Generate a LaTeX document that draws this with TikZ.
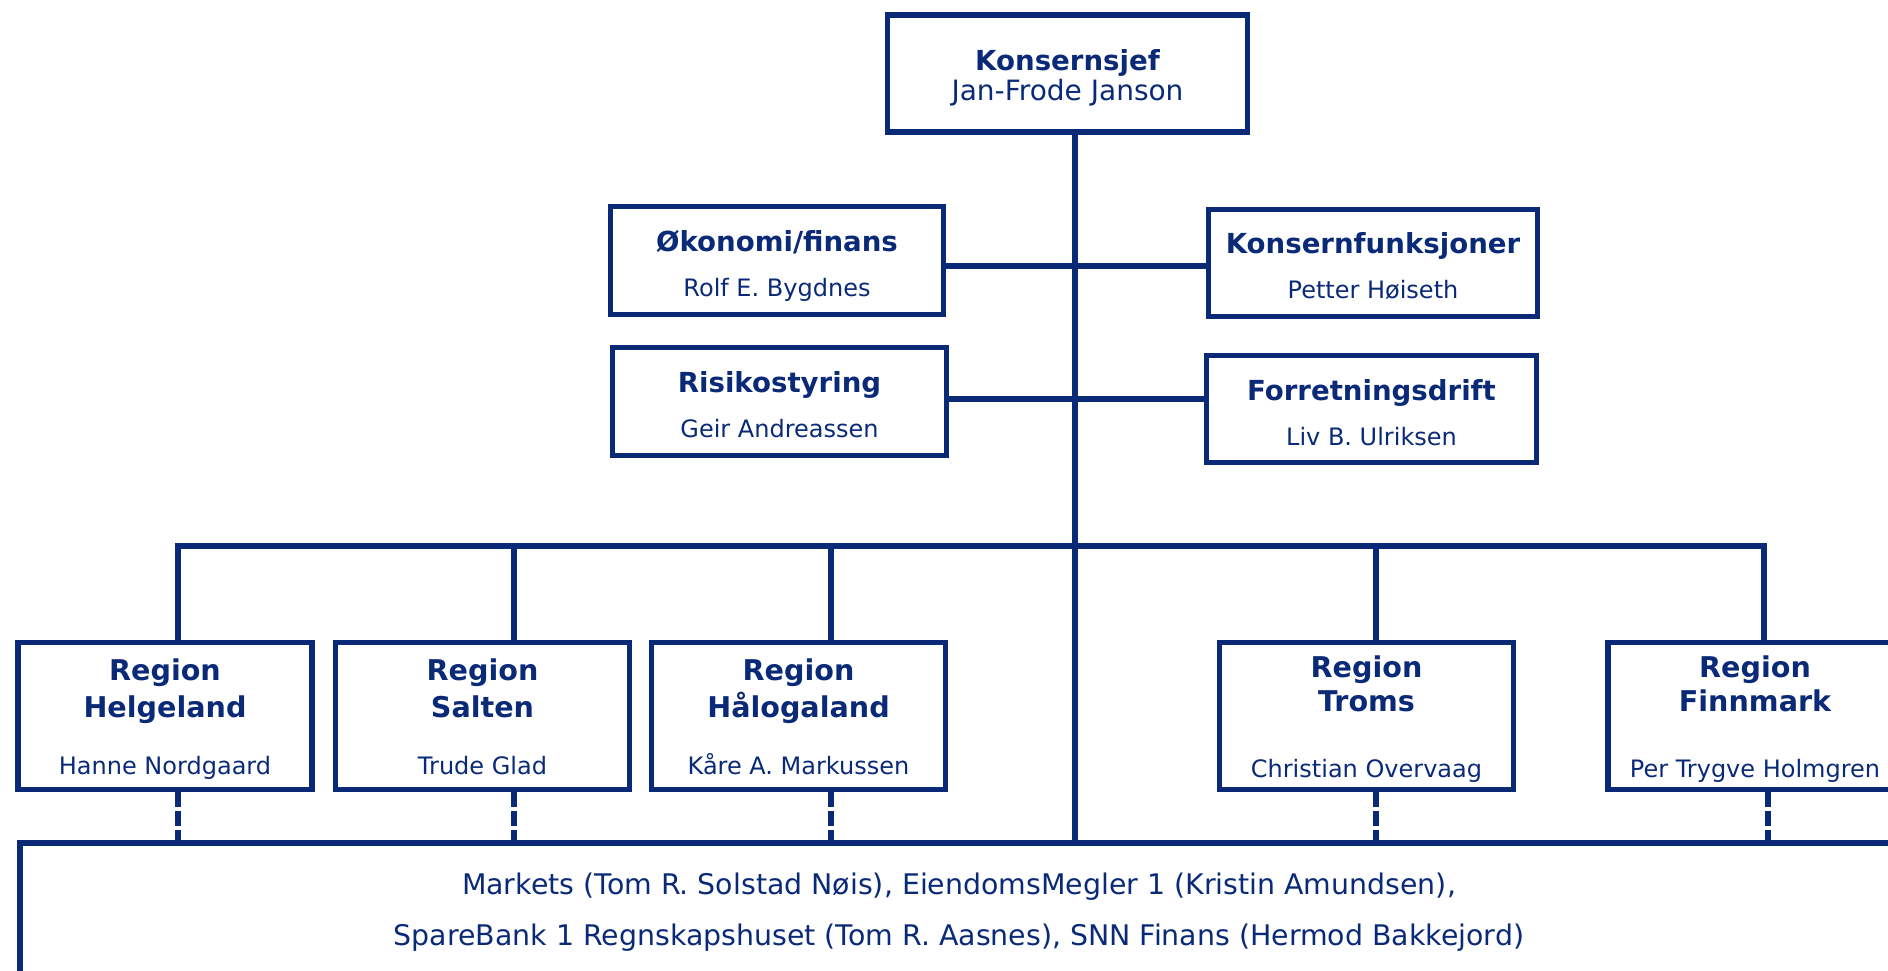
\documentclass[tikz,border=0pt]{standalone}
\usepackage{fontspec}
\setmainfont{DejaVu Sans}
\definecolor{navy}{HTML}{0A2A78}
\begin{document}
\begin{tikzpicture}[x=0.5pt,y=-0.5pt,
  box/.style={draw=navy,line width=2.8pt,rectangle,inner sep=0pt},
  conn/.style={draw=navy,line width=2.8pt},
  dconn/.style={draw=navy,line width=2.8pt,dash pattern=on 7.5pt off 2pt},
  lbl/.style={text=navy,anchor=base,inner sep=0pt},
  ttl/.style={lbl,font=\fontsize{13.8}{16}\selectfont\bfseries},
  ceonm/.style={lbl,font=\fontsize{14}{16}\selectfont},
  nm/.style={lbl,font=\fontsize{12}{14}\selectfont},
  rttl/.style={lbl,font=\fontsize{14.3}{17}\selectfont\bfseries},
  rnm/.style={lbl,font=\fontsize{12}{14}\selectfont},
  btxt/.style={lbl,font=\fontsize{14.2}{16}\selectfont},
  rbox/.style={box,minimum width=147pt,minimum height=73.5pt}
]
\clip (0,0) rectangle (1888,970);

% top
\node[box,minimum width=180pt,minimum height=58.5pt] (ceo) at (1067.5,73.5) {};
\node[ttl] (ceoT) at (1067.5,70) {Konsernsjef};
\node[ceonm] (ceoN) at (1067.5,100) {Jan-Frode Janson};

% staff
\node[box,minimum width=166.5pt,minimum height=54pt] (oko) at (777,260.5) {};
\node[ttl] (okoT) at (777,251) {Økonomi/finans};
\node[nm] (okoN) at (777,296) {Rolf E. Bygdnes};

\node[box,minimum width=164.5pt,minimum height=53.5pt] (kf) at (1373,263) {};
\node[ttl] (kfT) at (1373,253) {Konsernfunksjoner};
\node[nm] (kfN) at (1373,298) {Petter Høiseth};

\node[box,minimum width=167pt,minimum height=54pt] (risk) at (779.5,401.5) {};
\node[ttl] (riskT) at (779.5,392) {Risikostyring};
\node[nm] (riskN) at (779.5,437) {Geir Andreassen};

\node[box,minimum width=165pt,minimum height=53.5pt] (fd) at (1371.5,409) {};
\node[ttl] (fdT) at (1371.5,400) {Forretningsdrift};
\node[nm] (fdN) at (1371.5,445) {Liv B. Ulriksen};

% regions
\node[rbox] (helg) at (165,716) {};
\node[rttl] (helgT1) at (165,680) {Region};
\node[rttl] (helgT2) at (165,717) {Helgeland};
\node[rnm] (helgN) at (165,774) {Hanne Nordgaard};

\node[rbox] (salt) at (482.5,716) {};
\node[rttl] (saltT1) at (482.5,680) {Region};
\node[rttl] (saltT2) at (482.5,717) {Salten};
\node[rnm] (saltN) at (482.5,774) {Trude Glad};

\node[rbox] (halo) at (798.5,716) {};
\node[rttl] (haloT1) at (798.5,680) {Region};
\node[rttl] (haloT2) at (798.5,717) {Hålogaland};
\node[rnm] (haloN) at (798.5,774) {Kåre A. Markussen};

\node[rbox] (troms) at (1366.5,716) {};
\node[rttl] (tromsT1) at (1366.5,677) {Region};
\node[rttl] (tromsT2) at (1366.5,711) {Troms};
\node[rnm] (tromsN) at (1366.5,777) {Christian Overvaag};

\node[rbox] (finn) at (1755,716) {};
\node[rttl] (finnT1) at (1755,677) {Region};
\node[rttl] (finnT2) at (1755,711) {Finnmark};
\node[rnm] (finnN) at (1755,777) {Per Trygve Holmgren};

% bottom box
\node[box,anchor=north west,minimum width=942pt,minimum height=100pt] (bot) at (17,840) {};
\node[btxt] (botL1) at (959,894) {Markets (Tom R. Solstad Nøis), EiendomsMegler 1 (Kristin Amundsen),};
\node[btxt] (botL2) at (959,945) {SpareBank 1 Regnskapshuset (Tom R. Aasnes), SNN Finans (Hermod Bakkejord)};

% connectors
\coordinate (tr) at (1075,546);
\coordinate (h1) at (1075,266);
\coordinate (h2) at (1075,399);
\coordinate (d1) at (178,546);
\coordinate (d2) at (514,546);
\coordinate (d3) at (831,546);
\coordinate (d4) at (1376,546);
\coordinate (d5) at (1764,546);
\coordinate (e5) at (1768,546);

\draw[conn] (ceo.south -| tr) -- (bot.north -| tr);
\draw[conn] (oko.east |- h1) -- (kf.west |- h1);
\draw[conn] (risk.east |- h2) -- (fd.west |- h2);
\draw[conn] (helg.north -| d1) -- (d1) -- (d5) -- (finn.north -| d5);
\draw[conn] (d2) -- (salt.north -| d2);
\draw[conn] (d3) -- (halo.north -| d3);
\draw[conn] (d4) -- (troms.north -| d4);

\draw[dconn] (helg.south -| d1) -- (bot.north -| d1);
\draw[dconn] (salt.south -| d2) -- (bot.north -| d2);
\draw[dconn] (halo.south -| d3) -- (bot.north -| d3);
\draw[dconn] (troms.south -| d4) -- (bot.north -| d4);
\draw[dconn] (finn.south -| e5) -- (bot.north -| e5);
\end{tikzpicture}
\end{document}
